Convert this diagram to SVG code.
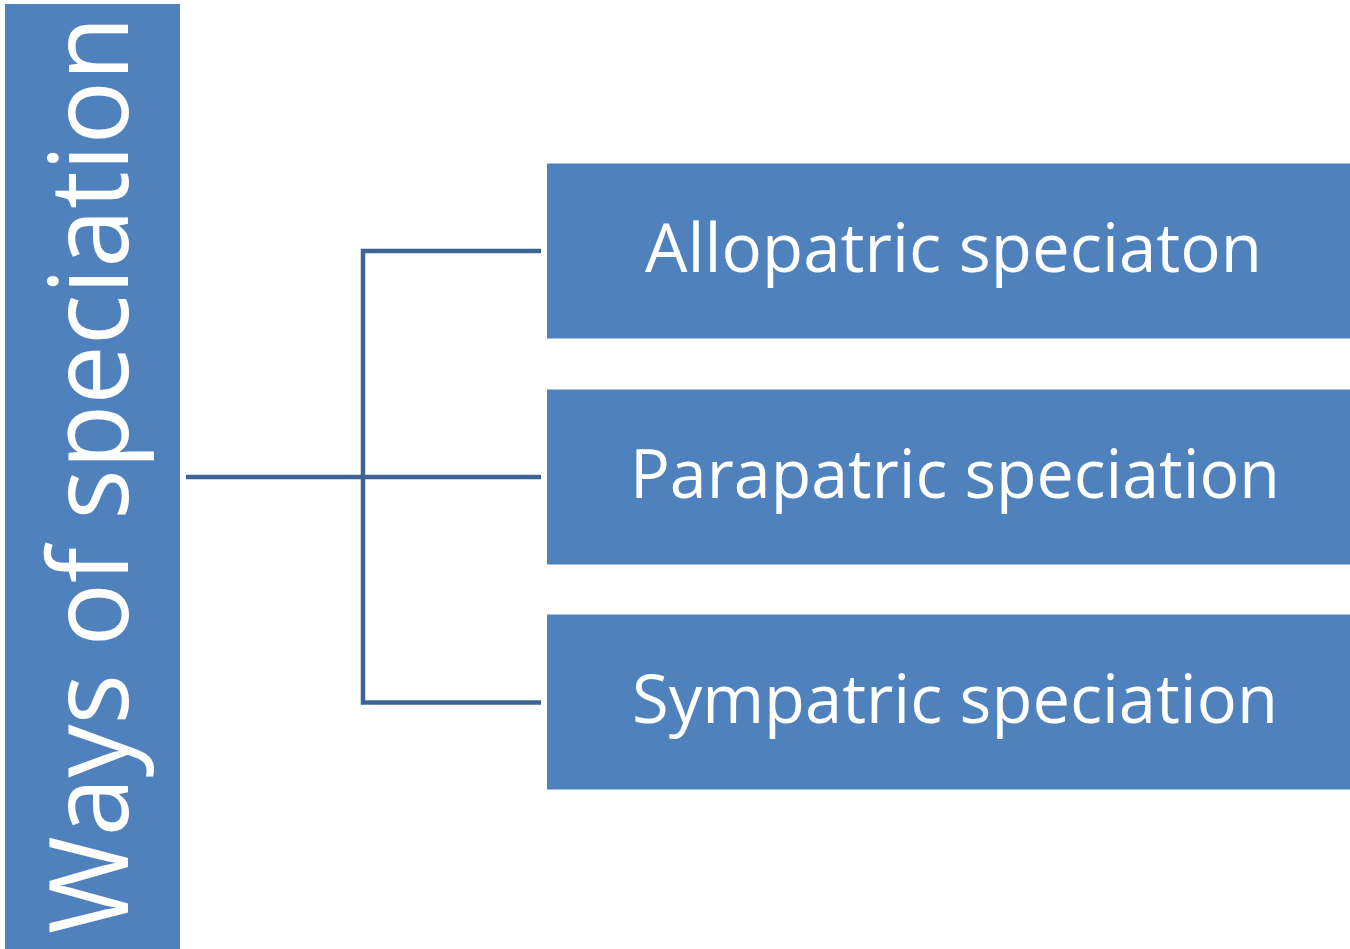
<svg xmlns="http://www.w3.org/2000/svg" width="1350" height="949" viewBox="0 0 1350 949">
<style>
.box{fill:#4F81BD;}
.lbl{font-family:"Open Sans","Liberation Sans",sans-serif;fill:#FFFFFF;text-anchor:middle;}
.conn{fill:none;stroke:#3D6494;stroke-width:4.5;}
</style>
<rect width="1350" height="949" fill="#FFFFFF"/>
<g id="root">
<rect class="box" x="5" y="4" width="175" height="945"/>
<text class="lbl" font-size="110" transform="translate(128,475) rotate(-90)" textLength="918" lengthAdjust="spacingAndGlyphs">Ways of speciation</text>
</g>
<g id="connectors">
<line class="conn" x1="186" y1="477" x2="541" y2="477"/>
<polyline class="conn" points="541,251 363,251 363,702.5 541,702.5"/>
</g>
<g id="n1">
<rect class="box" x="547" y="163.5" width="803" height="175"/>
<text class="lbl" font-size="67" x="953.5" y="272" textLength="617" lengthAdjust="spacingAndGlyphs">Allopatric speciaton</text>
</g>
<g id="n2">
<rect class="box" x="547" y="389.5" width="803" height="175"/>
<text class="lbl" font-size="67" x="955" y="498" textLength="650" lengthAdjust="spacingAndGlyphs">Parapatric speciation</text>
</g>
<g id="n3">
<rect class="box" x="547" y="614.5" width="803" height="175"/>
<text class="lbl" font-size="67" x="955" y="723" textLength="646" lengthAdjust="spacingAndGlyphs">Sympatric speciation</text>
</g>
</svg>
